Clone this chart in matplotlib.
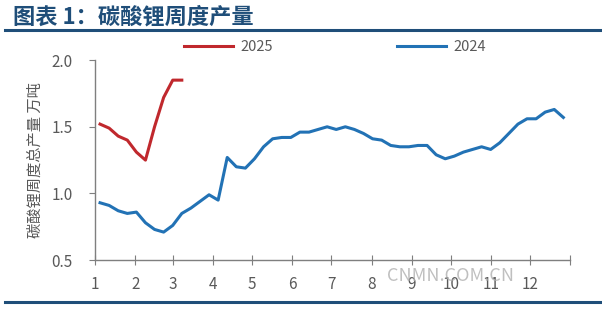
import matplotlib
matplotlib.use("Agg")
import numpy as np
import matplotlib.pyplot as plt

plt.rcParams['font.family'] = ['Noto Sans CJK SC', 'DejaVu Sans']

# weekly output, 10k tonnes
weeks_2024 = list(range(52))
vals_2024 = [0.93, 0.91, 0.87, 0.85, 0.86, 0.78, 0.73, 0.71, 0.76, 0.85,
             0.89, 0.94, 0.99, 0.95, 1.27, 1.20, 1.19, 1.26, 1.35, 1.41,
             1.42, 1.42, 1.46, 1.46, 1.48, 1.50, 1.48, 1.50, 1.48, 1.45,
             1.41, 1.40, 1.36, 1.35, 1.35, 1.36, 1.36, 1.29, 1.26, 1.28,
             1.31, 1.33, 1.35, 1.33, 1.38, 1.45, 1.52, 1.56, 1.56, 1.61,
             1.63, 1.57]
weeks_2025 = list(range(10))
vals_2025 = [1.52, 1.49, 1.43, 1.40, 1.31, 1.25, 1.50, 1.72, 1.85, 1.85]

month_labels = [str(m) for m in range(1, 13)]
month_start_day = [0, 31, 60, 91, 121, 152, 182, 213, 244, 274, 305, 335]

title = '图表 1：碳酸锂周度产量'
ylabel = '碳酸锂周度总产量 万吨'

navy = '#1F4E79'
grey = '#595959'
red = '#C0282D'
blue = '#2272B5'

def day_of(w):
    return 3.8 + 7 * np.asarray(w)

fig = plt.figure(figsize=(6.02, 3.10), dpi=100)
ax = fig.add_axes([0.158, 0.161, 0.789, 0.645])

ax.plot(day_of(weeks_2025), vals_2025, color=red, lw=2.2, label='2025')
ax.plot(day_of(weeks_2024), vals_2024, color=blue, lw=2.2, label='2024')

ax.set_xlim(0, 366)
ax.set_ylim(0.5, 2.0)
ax.set_yticks([0.5, 1.0, 1.5, 2.0])
ax.set_yticklabels(['0.5', '1.0', '1.5', '2.0'])
ax.set_xticks(month_start_day + [366])
ax.set_xticklabels(month_labels + [''])

for s in ['top', 'right']:
    ax.spines[s].set_visible(False)
for s in ['left', 'bottom']:
    ax.spines[s].set_color('#7f7f7f')
    ax.spines[s].set_linewidth(1.0)
ax.tick_params(axis='x', direction='inout', length=7, colors='#7f7f7f',
               labelcolor=grey, labelsize=11, pad=8)
ax.tick_params(axis='y', direction='out', length=4, colors='#7f7f7f',
               labelcolor=grey, labelsize=11, pad=12)
ax.set_ylabel(ylabel, color=grey, fontsize=11, labelpad=6)

ax.legend(loc='upper center', bbox_to_anchor=(0.505, 1.165), ncol=2,
          frameon=False, fontsize=10.5, labelcolor=grey, handlelength=3.4,
          handletextpad=0.5, columnspacing=8.5)

fig.text(0.022, 0.945, title, color=navy, fontsize=16, fontweight='bold',
         va='center', ha='left')
fig.add_artist(plt.Line2D([0.008, 0.997], [0.903, 0.903], color=navy, lw=2.2))
fig.add_artist(plt.Line2D([0.008, 0.997], [0.026, 0.026], color=navy, lw=2.2))

fig.text(0.749, 0.11, 'CNMN.COM.CN', color='#b0b0b0', fontsize=13,
         ha='center', va='center', alpha=0.8)

fig.savefig('out.png', dpi=100)
